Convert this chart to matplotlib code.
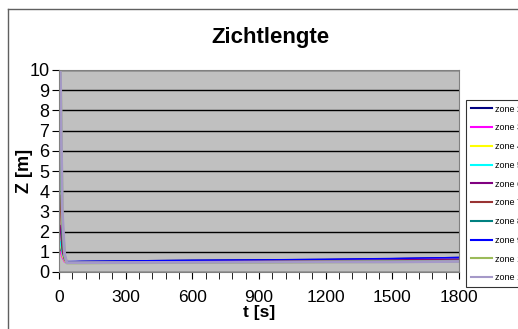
import numpy as np
import matplotlib.pyplot as plt
from matplotlib.lines import Line2D

plt.rcParams['font.family'] = ['Liberation Sans', 'DejaVu Sans']

# time samples [s]
t = [5, 15, 25, 35, 50, 100, 300, 600, 900, 1200, 1500, 1800]

# zichtlengte per zone [m]
zone2 = [1.2, 0.8, 0.55, 0.5, 0.5, 0.52, 0.55, 0.58, 0.6, 0.62, 0.66, 0.72]
zone3 = [1.0, 0.7, 0.5, 0.48, 0.48, 0.48, 0.5, 0.53, 0.55, 0.58, 0.62, 0.68]
zone4 = [1.4, 0.8, 0.55, 0.47, 0.47, 0.47, 0.48, 0.5, 0.52, 0.54, 0.56, 0.6]
zone5 = [1.5, 0.9, 0.6, 0.45, 0.45, 0.46, 0.48, 0.5, 0.53, 0.56, 0.6, 0.64]
zone6 = [2.3, 1.0, 0.6, 0.48, 0.48, 0.48, 0.5, 0.53, 0.55, 0.57, 0.6, 0.64]
zone7 = [3.8, 1.2, 0.65, 0.46, 0.46, 0.46, 0.47, 0.5, 0.52, 0.54, 0.56, 0.58]
zone8 = [6.3, 1.5, 0.7, 0.46, 0.46, 0.46, 0.48, 0.5, 0.51, 0.52, 0.54, 0.56]
zone9 = [11.0, 2.0, 0.8, 0.52, 0.52, 0.53, 0.55, 0.58, 0.6, 0.63, 0.67, 0.72]
zone10 = [11.0, 2.5, 0.8, 0.45, 0.45, 0.45, 0.46, 0.47, 0.48, 0.5, 0.51, 0.52]
zone11 = [11.0, 3.0, 0.9, 0.46, 0.46, 0.46, 0.47, 0.48, 0.49, 0.5, 0.5, 0.52]

series = [zone2, zone3, zone4, zone5, zone6, zone7, zone8, zone9, zone10, zone11]
labels = ['zone 2', 'zone 3', 'zone 4', 'zone 5', 'zone 6',
          'zone 7', 'zone 8', 'zone 9', 'zone 10', 'zone 11']
colors = ['#000080', '#FF00FF', '#FFFF00', '#00FFFF', '#800080',
          '#993333', '#008080', '#0000FF', '#9BBB59', '#A599C8']

fig = plt.figure(figsize=(5.18, 3.29), dpi=100)

# outer chart border (left + top visible)
fig.add_artist(Line2D([8/518, 8/518], [0, 1 - 9/329], color='#606060', lw=1,
                      transform=fig.transFigure))
fig.add_artist(Line2D([8/518, 1], [1 - 9/329, 1 - 9/329], color='#606060', lw=1,
                      transform=fig.transFigure))

ax = fig.add_axes([59/518, 57/329, 400/518, 202/329])
ax.set_facecolor('#C0C0C0')

for y, lab, c in zip(series, labels, colors):
    lw = 2 if lab in ('zone 10', 'zone 11') else 1
    ax.plot(t, y, color=c, lw=lw, label=lab)

ax.set_xlim(0, 1800)
ax.set_ylim(0, 10)
ax.set_xticks(np.arange(0, 1801, 300))
ax.set_xticks(np.arange(0, 1801, 60), minor=True)
ax.set_yticks(np.arange(0, 11, 1))
ax.yaxis.grid(True, color='black', lw=1)
ax.set_axisbelow(True)
for s in ax.spines.values():
    s.set_color('#808080')
ax.tick_params(axis='both', which='both', direction='out', length=5, color='black')
ax.tick_params(axis='y', labelsize=13, pad=2)
ax.tick_params(axis='x', labelsize=12.5, pad=8)

fig.text(270/518, 1 - 38/329, 'Zichtlengte', fontsize=16, fontweight='bold',
         ha='center', va='center')
ax.set_xlabel('t [s]', fontsize=12.5, fontweight='bold', labelpad=0)
ax.set_ylabel('Z [m]', fontsize=13, fontweight='bold', labelpad=-3)

leg = ax.legend(loc='upper left', bbox_to_anchor=(466/518, 1 - 100/329),
                bbox_transform=fig.transFigure, fontsize=6.5, frameon=True,
                fancybox=False, edgecolor='black', borderpad=0.5,
                borderaxespad=0, labelspacing=1.08, handlelength=2.4,
                handletextpad=0.3)
leg.get_frame().set_linewidth(0.8)
for line in leg.get_lines():
    line.set_linewidth(1.5)

fig.savefig('out.png', dpi=100)
